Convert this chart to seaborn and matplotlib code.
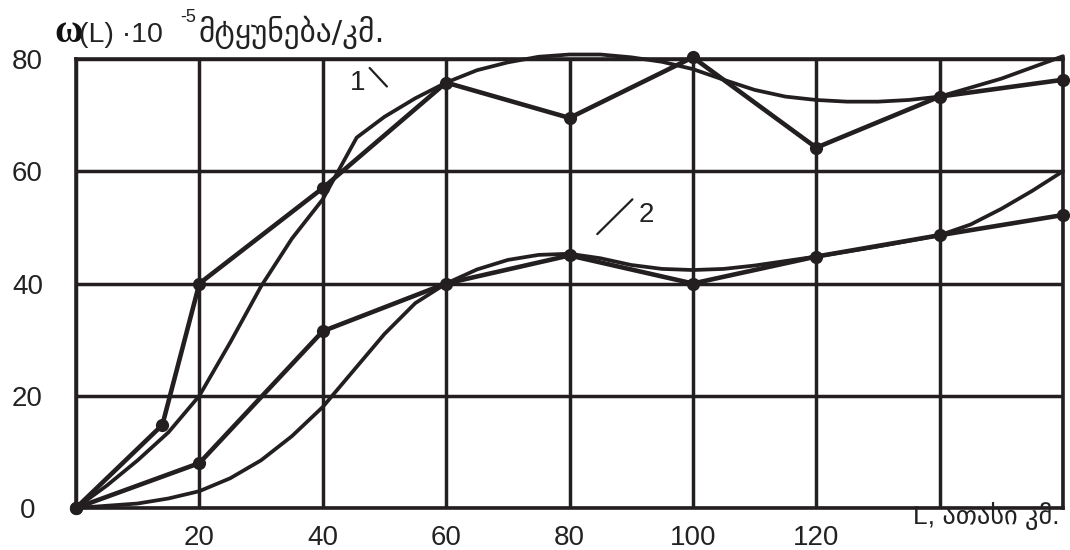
import matplotlib
matplotlib.use("Agg")
import matplotlib.pyplot as plt
import seaborn as sns
import pandas as pd

# ---- data ----
# curve 1, measured (broken line with points)
x1_pts = [0, 14, 20, 40, 60, 80, 100, 120, 140, 160]
y1_pts = [0, 14.8, 40, 57, 75.8, 69.5, 80.3, 64.2, 73.3, 76.3]
# curve 1, smoothed
x1_fit = [0, 5, 10, 15, 20, 25, 30, 35, 40, 45.5, 50, 55, 60, 65, 70, 75, 80, 85, 90,
          95, 100, 105, 110, 115, 120, 125, 130, 135, 140, 150, 160]
y1_fit = [0, 4, 8.5, 13.5, 20, 29.5, 39.5, 48, 55, 66, 69.7, 73, 75.8, 78, 79.4, 80.4,
          80.8, 80.8, 80.3, 79.5, 78.2, 76.3, 74.5, 73.3, 72.7, 72.4, 72.4, 72.7, 73.3,
          76.5, 80.5]
# curve 2, measured
x2_pts = [0, 20, 40, 60, 80, 100, 120, 140, 160]
y2_pts = [0, 8, 31.5, 40, 45, 40, 44.8, 48.6, 52.2]
# curve 2, smoothed
x2_fit = [0, 10, 15, 20, 25, 30, 35, 40, 45, 50, 55, 60, 65, 70, 75, 80, 85, 90, 95,
          100, 105, 110, 115, 120, 130, 140, 145, 150, 155, 160]
y2_fit = [0, 0.8, 1.7, 3, 5.3, 8.5, 12.8, 18, 24.5, 31, 36.5, 40, 42.5, 44.2, 45.1,
          45.3, 44.5, 43.3, 42.6, 42.4, 42.6, 43.2, 44, 44.8, 46.6, 48.6, 50.5, 53.3,
          56.5, 60]

x_ticks = [0, 20, 40, 60, 80, 100, 120, 140, 160]
x_tick_labels = ["", "20", "40", "60", "80", "100", "120", "", ""]
y_ticks = [0, 20, 40, 60, 80]
y_tick_labels = ["0", "20", "40", "60", "80"]

title_omega = "ω"
title_main = "(L) ·10"
title_exp = "-5"
title_unit = "მტყუნება/კმ."
x_label = "L, ათასი კმ."
curve_labels = ["1", "2"]

INK = "#231f20"
TXT = "#222222"

sns.set_style("white")
plt.rcParams["font.family"] = ["Liberation Sans", "DejaVu Sans"]

fig = plt.figure(figsize=(10.7, 5.5), dpi=100)
ax = fig.add_axes([76 / 1070, 42 / 550, 987 / 1070, 449 / 550])

df1p = pd.DataFrame({"L": x1_pts, "w": y1_pts})
df1f = pd.DataFrame({"L": x1_fit, "w": y1_fit})
df2p = pd.DataFrame({"L": x2_pts, "w": y2_pts})
df2f = pd.DataFrame({"L": x2_fit, "w": y2_fit})

for d in (df1f, df2f):
    sns.lineplot(data=d, x="L", y="w", ax=ax, color=INK, lw=2.7, sort=False,
                 estimator=None, clip_on=False, zorder=3)
for d in (df1p, df2p):
    sns.lineplot(data=d, x="L", y="w", ax=ax, color=INK, lw=3.3, sort=False,
                 estimator=None, marker="o", markersize=9.5, markeredgewidth=0,
                 markerfacecolor=INK, clip_on=False, zorder=4)

ax.set_xlim(0, 160)
ax.set_ylim(0, 80)
ax.set_xticks(x_ticks)
ax.set_xticklabels(x_tick_labels)
ax.set_yticks(y_ticks)
ax.set_yticklabels(y_tick_labels)
ax.set_xlabel("")
ax.set_ylabel("")
ax.grid(True, color=INK, lw=2.5, zorder=1)
ax.set_axisbelow(True)
for s in ax.spines.values():
    s.set_visible(True)
    s.set_color(INK)
    s.set_linewidth(2.6)
ax.tick_params(axis="both", length=0, labelsize=20, colors=TXT)
ax.tick_params(axis="x", pad=12)
ax.tick_params(axis="y", pad=35)
for t in ax.get_yticklabels():
    t.set_ha("center")

# curve labels with leader lines
ax.text(45.7, 74.5, curve_labels[0], fontsize=20, ha="center", va="baseline", color=TXT)
ax.plot([47.6, 50.4], [78.4, 75.1], color=INK, lw=1.6)
ax.text(92.5, 51.0, curve_labels[1], fontsize=20, ha="center", va="baseline", color=TXT)
ax.plot([84.5, 90.2], [48.8, 55.0], color=INK, lw=1.6)

# title pieces (figure pixel positions)
def fx(px):
    return px / 1070

def fy(py):
    return (550 - py) / 550

fig.text(fx(54), fy(42), title_omega, fontsize=28, fontweight="bold",
         family=["Liberation Serif", "DejaVu Serif"], color="#111111", va="baseline")
fig.text(fx(79), fy(42), title_main, fontsize=20.5, color=TXT, va="baseline")
fig.text(fx(180), fy(22), title_exp, fontsize=13, color=TXT, va="baseline")
fig.text(fx(198), fy(42), title_unit, fontsize=22.5, family=["DejaVu Sans"],
         color=TXT, va="baseline")
fig.text(fx(913), fy(524), x_label, fontsize=19, color=TXT, va="baseline")

fig.savefig("out.png", dpi=100)
